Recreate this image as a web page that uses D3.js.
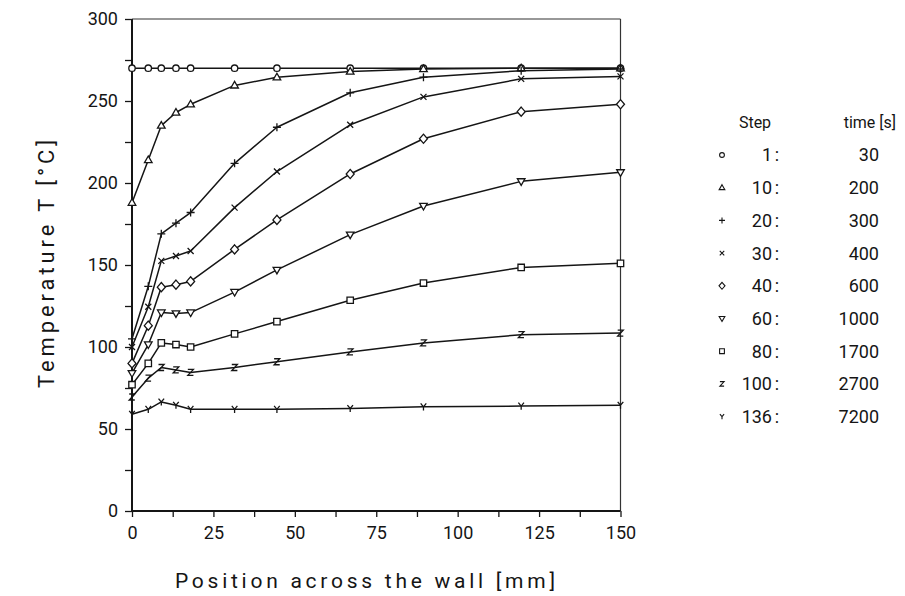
<!DOCTYPE html>
<html>
<head>
<meta charset="utf-8">
<script src="https://cdn.jsdelivr.net/npm/d3@7"></script>
<style>
  body { margin: 0; background: #fff; }
  svg { display: block; }
  text { font-family: Roboto, "DejaVu Sans", sans-serif; fill: #151515; }
</style>
</head>
<body>
<svg id="chart" width="905" height="596"></svg>
<script>
// Positions across the wall [mm] at which temperatures were computed
const positions = [0, 5, 9, 13.5, 18, 31.5, 44.5, 67, 89.5, 119.5, 150];

// Calculation steps and corresponding times [s]
const steps = [1, 10, 20, 30, 40, 60, 80, 100, 136];
const times = [30, 200, 300, 400, 600, 1000, 1700, 2700, 7200];
const markerKinds = ["circle", "triangle", "plus", "cross", "diamond", "triangleDown", "square", "zed", "wye"];

// Temperature profiles T [°C], one per step
const tempStep1   = [270, 270, 270, 270, 270, 270, 270, 270, 270, 270, 270];
const tempStep10  = [188, 214, 235, 243, 248, 259.5, 264.5, 268, 269.5, 270, 270];
const tempStep20  = [105, 137, 169, 175.5, 182, 212, 234, 255, 264.5, 268.5, 269.5];
const tempStep30  = [100, 124.5, 152.5, 155.5, 158.5, 185, 207, 235.5, 252.5, 263.5, 265];
const tempStep40  = [90, 113, 136.5, 138, 140, 159.5, 177.5, 205.5, 227, 243.5, 248];
const tempStep60  = [84, 101.5, 121, 120.5, 121, 133.5, 147, 168.5, 186, 201, 206.5];
const tempStep80  = [77, 90, 102.5, 101.5, 100, 108, 115.5, 128.5, 139, 148.5, 151];
const tempStep100 = [69.5, 81, 87.5, 86, 84.5, 87.5, 91, 97, 102.5, 107.5, 108.5];
const tempStep136 = [59, 62, 66.5, 64.5, 62, 62, 62, 62.5, 63.5, 64, 64.5];

const profiles = [tempStep1, tempStep10, tempStep20, tempStep30, tempStep40,
                  tempStep60, tempStep80, tempStep100, tempStep136];

// Axis ticks and labels
const xTicks = [0, 12.5, 25, 37.5, 50, 62.5, 75, 87.5, 100, 112.5, 125, 137.5, 150];
const xLabels = [0, 25, 50, 75, 100, 125, 150];
const yTicks = [0, 25, 50, 75, 100, 125, 150, 175, 200, 225, 250, 275, 300];
const yLabels = [0, 50, 100, 150, 200, 250, 300];

const xTitle = "Position across the wall [mm]";
const yTitle = "Temperature T [°C]";
const legendStepHead = "Step";
const legendTimeHead = "time [s]";

// ---- layout ----
const svg = d3.select("#chart");
const x = d3.scaleLinear().domain([0, 150]).range([132, 620.5]);
const y = d3.scaleLinear().domain([0, 300]).range([511, 19]);
const ink = "#151515";

// marker shapes drawn as small outline glyphs
function markerPath(kind, s) {
  const p = d3.path();
  switch (kind) {
    case "circle":
      p.moveTo(s * 0.8, 0); p.arc(0, 0, s * 0.8, 0, 2 * Math.PI); break;
    case "triangle":
      p.moveTo(0, -s); p.lineTo(s * 0.95, s * 0.65); p.lineTo(-s * 0.95, s * 0.65); p.closePath(); break;
    case "triangleDown":
      p.moveTo(0, s); p.lineTo(s * 0.95, -s * 0.65); p.lineTo(-s * 0.95, -s * 0.65); p.closePath(); break;
    case "plus":
      p.moveTo(-s, 0); p.lineTo(s, 0); p.moveTo(0, -s); p.lineTo(0, s); break;
    case "cross":
      p.moveTo(-s * 0.75, -s * 0.75); p.lineTo(s * 0.75, s * 0.75);
      p.moveTo(s * 0.75, -s * 0.75); p.lineTo(-s * 0.75, s * 0.75); break;
    case "diamond":
      p.moveTo(0, -s * 1.15); p.lineTo(s, 0); p.lineTo(0, s * 1.15); p.lineTo(-s, 0); p.closePath(); break;
    case "square":
      p.rect(-s * 0.8, -s * 0.8, s * 1.6, s * 1.6); break;
    case "zed":
      p.moveTo(-s * 0.7, -s * 0.75); p.lineTo(s * 0.7, -s * 0.75);
      p.lineTo(-s * 0.7, s * 0.75); p.lineTo(s * 0.7, s * 0.75); break;
    case "wye":
      p.moveTo(-s * 0.7, -s * 0.85); p.lineTo(0, 0); p.lineTo(s * 0.7, -s * 0.85);
      p.moveTo(0, 0); p.lineTo(0, s * 0.9); break;
  }
  return p.toString();
}
const closedKinds = new Set(["circle", "triangle", "triangleDown", "diamond", "square"]);

// ---- frame (top and right edges) ----
svg.append("line")
  .attr("x1", x(0)).attr("x2", x(150)).attr("y1", y(300)).attr("y2", y(300))
  .attr("stroke", "#333").attr("stroke-width", 1.2);
svg.append("line")
  .attr("x1", x(150)).attr("x2", x(150)).attr("y1", y(300)).attr("y2", y(0))
  .attr("stroke", "#333").attr("stroke-width", 1.2);

// ---- axes ----
const xAxis = d3.axisBottom(x)
  .tickValues(xTicks)
  .tickSize(6)
  .tickPadding(6)
  .tickFormat(d => xLabels.includes(d) ? d3.format("d")(d) : "");
const gx = svg.append("g").attr("transform", `translate(0,${y(0)})`).call(xAxis);

const yAxis = d3.axisLeft(y)
  .tickValues(yTicks)
  .tickSize(7)
  .tickPadding(5)
  .tickFormat(d => yLabels.includes(d) ? d3.format("d")(d) : "");
const gy = svg.append("g").attr("transform", `translate(${x(0)},0)`).call(yAxis);

[gx, gy].forEach(g => {
  g.select(".domain").remove();
  g.selectAll(".tick line").attr("stroke", ink).attr("stroke-width", 1.3);
  g.selectAll(".tick text").attr("fill", ink).style("font-size", "18px")
    .style("font-family", "Roboto, 'DejaVu Sans', sans-serif");
});
// axis lines drawn plainly, without the end caps of the default domain path
svg.append("line").attr("x1", x(0)).attr("x2", x(150)).attr("y1", y(0)).attr("y2", y(0))
  .attr("stroke", ink).attr("stroke-width", 2);
svg.append("line").attr("x1", x(0)).attr("x2", x(0)).attr("y1", y(0)).attr("y2", y(300))
  .attr("stroke", ink).attr("stroke-width", 2);
gx.selectAll(".tick text").attr("dy", "0.9em");
gy.selectAll(".tick text").attr("dx", "-2");

// axis titles
svg.append("text")
  .attr("x", 365).attr("y", 588)
  .attr("text-anchor", "middle")
  .attr("textLength", 380).attr("lengthAdjust", "spacing")
  .style("font-size", "21px")
  .text(xTitle);
svg.append("text")
  .attr("transform", "translate(54,264) rotate(-90)")
  .attr("text-anchor", "middle")
  .attr("textLength", 248).attr("lengthAdjust", "spacing")
  .style("font-size", "22px")
  .text(yTitle);

// ---- temperature profiles ----
const line = d3.line().x((d, i) => x(positions[i])).y(d => y(d));
const series = profiles.map((vals, k) => ({ vals, kind: markerKinds[k] }));

const gSeries = svg.append("g");
gSeries.selectAll("path.profile")
  .data(series)
  .join("path")
  .attr("class", "profile")
  .attr("d", d => line(d.vals))
  .attr("fill", "none")
  .attr("stroke", ink)
  .attr("stroke-width", 1.5)
  .attr("stroke-linejoin", "round");

series.forEach(s => {
  gSeries.append("g").selectAll("path")
    .data(s.vals)
    .join("path")
    .attr("transform", (d, i) => `translate(${x(positions[i])},${y(d)})`)
    .attr("d", markerPath(s.kind, 4))
    .attr("fill", closedKinds.has(s.kind) ? "#fff" : "none")
    .attr("stroke", ink)
    .attr("stroke-width", 1.3);
});

// ---- legend ----
const legend = svg.append("g");
const rowY = i => 155 + i * 32.7;
legend.append("text").attr("x", 755).attr("y", 128).attr("text-anchor", "middle")
  .style("font-size", "16px").text(legendStepHead);
legend.append("text").attr("x", 896).attr("y", 128).attr("text-anchor", "end")
  .style("font-size", "16px").text(legendTimeHead);

steps.forEach((st, i) => {
  const cy = rowY(i);
  legend.append("path")
    .attr("transform", `translate(722,${cy})`)
    .attr("d", markerPath(markerKinds[i], 3))
    .attr("fill", closedKinds.has(markerKinds[i]) ? "#fff" : "none")
    .attr("stroke", ink).attr("stroke-width", 1.1);
  legend.append("text").attr("x", 772).attr("y", cy).attr("dy", "0.36em")
    .attr("text-anchor", "end").style("font-size", "18px").text(st);
  legend.append("text").attr("x", 777).attr("y", cy).attr("dy", "0.36em")
    .attr("text-anchor", "middle").style("font-size", "18px").text(":");
  legend.append("text").attr("x", 879).attr("y", cy).attr("dy", "0.36em")
    .attr("text-anchor", "end").style("font-size", "18px").text(times[i]);
});
</script>
</body>
</html>
